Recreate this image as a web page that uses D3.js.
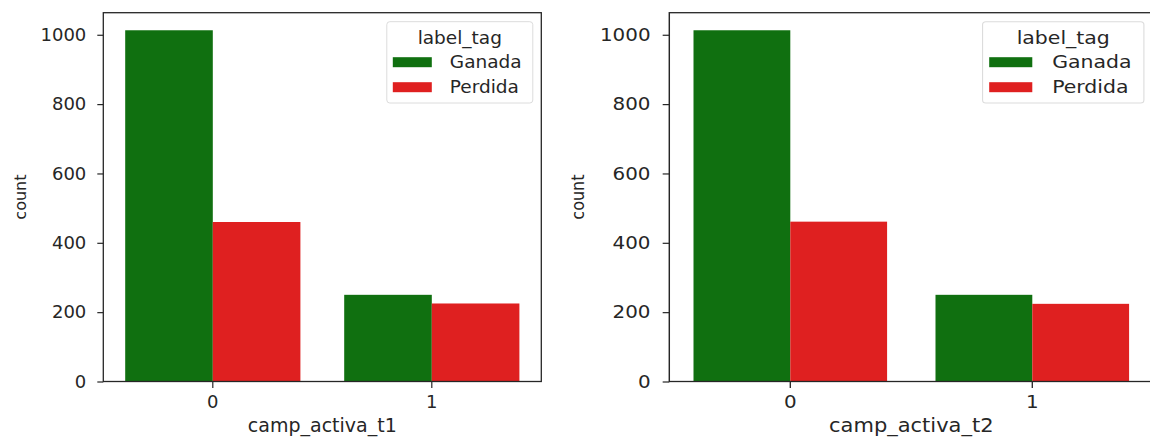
<!DOCTYPE html>
<html>
<head>
<meta charset="utf-8">
<script src="https://cdn.jsdelivr.net/npm/d3@7"></script>
<style>
  body { margin: 0; background: #fff; }
  text { font-family: "DejaVu Sans", sans-serif; fill: #262626; }
</style>
</head>
<body>
<div class="chart"></div>
<script>
const categories = ['0', '1'];
const series = ['Ganada', 'Perdida'];
const ganadaT1 = [1013, 250];
const perdidaT1 = [460, 225];
const ganadaT2 = [1013, 250];
const perdidaT2 = [461, 224];
const yTicks = [0, 200, 400, 600, 800, 1000];
const colors = ['#107010', '#df2020'];

const width = 1150;
const height = 438;
const plotW = 438;
const plotTop = 12.7;
const plotBottom = 381.5;

const svg = d3.select('.chart')
	.append('svg')
	.attr('width', width)
	.attr('height', height)

function panel(x0, sx, xlabel, ganada, perdida) {
	const g = svg.append('g')
		.attr('transform', 'translate(' + x0 + ',0) scale(' + sx + ',1)')

	const x = d3.scaleBand().domain(categories).range([0, plotW]).padding(0);
	const xs = d3.scaleBand().domain(series)
		.range([x.bandwidth() * 0.1, x.bandwidth() * 0.9]).padding(0);
	const ymax = d3.max(ganada.concat(perdida)) * 1.05;
	const y = d3.scaleLinear().domain([0, ymax]).range([plotBottom, plotTop]);

	const rows = [];
	categories.forEach(function(c, i) {
		rows.push({cat: c, s: 'Ganada', v: ganada[i]});
		rows.push({cat: c, s: 'Perdida', v: perdida[i]});
	});

	g.selectAll('rect.bar')
		.data(rows)
		.enter()
		.append('rect')
		.attr('class', 'bar')
		.attr('x', function(d) { return x(d.cat) + xs(d.s); })
		.attr('width', xs.bandwidth())
		.attr('y', function(d) { return y(d.v); })
		.attr('height', function(d) { return y(0) - y(d.v); })
		.attr('fill', function(d) { return colors[series.indexOf(d.s)]; })

	// axes
	const ax = g.append('g')
		.attr('transform', 'translate(0,' + plotBottom + ')')
		.call(d3.axisBottom(x).tickSize(6.5).tickPadding(7))
	const ay = g.append('g')
		.call(d3.axisLeft(y).tickValues(yTicks).tickFormat(d3.format('d')).tickSize(6).tickPadding(11))
	ax.select('.domain').remove();
	ay.select('.domain').remove();
	g.selectAll('.tick text').attr('font-size', 18).attr('font-family', 'DejaVu Sans').attr('fill', '#262626');
	g.selectAll('.tick line').attr('stroke', '#262626').attr('stroke-width', 1.2);

	// frame
	g.append('rect')
		.attr('x', 0)
		.attr('y', plotTop)
		.attr('width', plotW)
		.attr('height', plotBottom - plotTop)
		.attr('fill', 'none')
		.attr('stroke', '#262626')
		.attr('stroke-width', 1.3)

	g.append('text')
		.text(xlabel)
		.attr('x', plotW / 2)
		.attr('y', 432)
		.attr('text-anchor', 'middle')
		.attr('font-size', 19)

	g.append('text')
		.text('count')
		.attr('transform', 'translate(-77,' + ((plotTop + plotBottom) / 2) + ') rotate(-90)')
		.attr('text-anchor', 'middle')
		.attr('font-size', 16)

	// legend
	const lg = g.append('g').attr('transform', 'translate(283.5,21.7)')
	lg.append('rect')
		.attr('width', 146)
		.attr('height', 81.3)
		.attr('rx', 3)
		.attr('fill', '#fff')
		.attr('fill-opacity', 0.8)
		.attr('stroke', '#dcdcdc')
	lg.append('text')
		.text('label_tag')
		.attr('x', 73)
		.attr('y', 22)
		.attr('text-anchor', 'middle')
		.attr('font-size', 18.5)
	lg.selectAll('.key')
		.data(series)
		.enter()
		.append('rect')
		.attr('class', 'key')
		.attr('x', 6)
		.attr('y', function(d, i) { return 35.5 + i * 25; })
		.attr('width', 39)
		.attr('height', 10)
		.attr('fill', function(d, i) { return colors[i]; })
	lg.selectAll('.keytext')
		.data(series)
		.enter()
		.append('text')
		.attr('class', 'keytext')
		.text(function(d) { return d; })
		.attr('x', 63)
		.attr('y', function(d, i) { return 46.8 + i * 25; })
		.attr('font-size', 18.5)
}

panel(103.3, 1, 'camp_activa_t1', ganadaT1, perdidaT1);
panel(669.3, 1.105, 'camp_activa_t2', ganadaT2, perdidaT2);
</script>
</body>
</html>
